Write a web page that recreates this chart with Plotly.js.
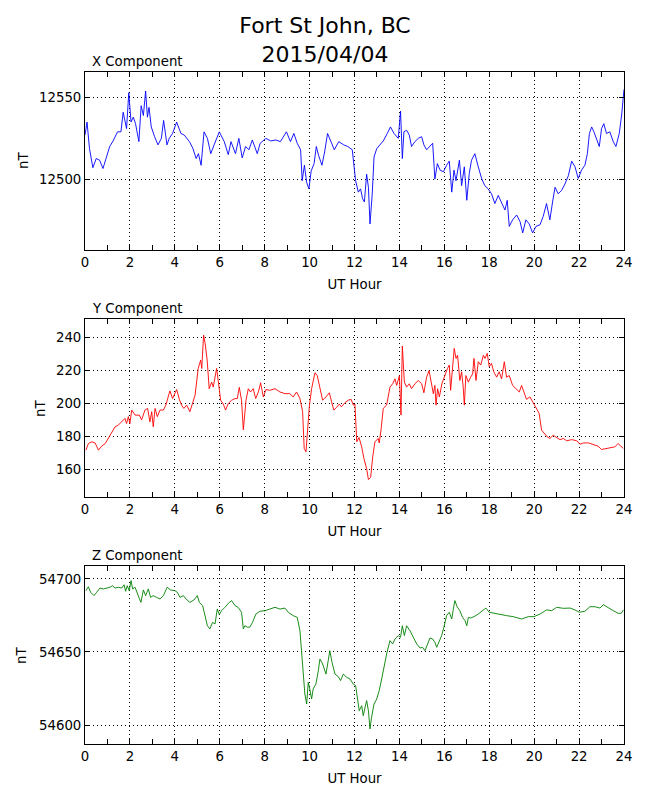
<!DOCTYPE html>
<html>
<head>
<meta charset="utf-8">
<script src="https://cdn.plot.ly/plotly-3.0.1.min.js"></script>
<style>html,body{margin:0;padding:0;background:#fff;}#chart{width:650px;height:800px;}</style>
</head>
<body>
<div id="chart"></div>
<script>
// ---- Data ----
const hoursX = [0.0,0.09,0.2,0.35,0.5,0.65,0.8,0.95,1.1,1.25,1.45,1.6,1.7,1.85,1.95,2.05,2.15,2.25,2.4,2.5,2.6,2.7,2.78,2.85,2.95,3.1,3.25,3.4,3.5,3.65,3.75,3.9,4.08,4.27,4.42,4.65,4.8,4.95,5.05,5.17,5.3,5.45,5.6,5.75,5.98,6.2,6.38,6.5,6.7,6.85,7.0,7.15,7.3,7.45,7.67,7.8,8.05,8.27,8.5,8.7,8.97,9.15,9.3,9.45,9.6,9.67,9.77,9.87,9.97,10.07,10.2,10.3,10.4,10.55,10.67,10.8,10.95,11.1,11.3,11.52,11.7,11.9,12.05,12.17,12.27,12.36,12.44,12.54,12.62,12.69,12.79,12.87,12.99,13.13,13.28,13.46,13.6,13.76,13.95,14.05,14.13,14.2,14.32,14.44,14.54,14.69,14.84,14.99,15.09,15.21,15.36,15.48,15.58,15.69,15.81,15.96,16.1,16.22,16.33,16.43,16.52,16.67,16.77,16.89,17.0,17.11,17.21,17.36,17.51,17.66,17.8,17.95,18.1,18.25,18.4,18.55,18.7,18.8,18.89,19.04,19.22,19.37,19.49,19.63,19.78,19.93,20.08,20.26,20.4,20.55,20.7,20.82,20.93,21.07,21.22,21.37,21.52,21.67,21.82,21.96,22.11,22.26,22.37,22.46,22.56,22.66,22.78,22.9,23.0,23.1,23.22,23.37,23.52,23.64,23.79,23.9,24.0];
const compX = [12527,12535,12518.7,12507,12512.6,12511.6,12506.5,12512.6,12520,12523.4,12529,12529,12541,12531,12553,12535,12538,12534,12523,12545,12539,12554,12538,12544,12532,12526,12521,12525,12536,12521,12525,12528,12535,12528,12527,12523,12519,12512.6,12515.6,12508.5,12529,12525,12515.6,12521,12529,12523,12515,12523,12515.6,12525,12513,12520,12518,12524,12515.6,12522,12525,12523.4,12524,12523,12529,12523,12528,12522,12518,12499,12508.5,12498,12494,12505,12509.5,12520,12514.6,12508.5,12516.7,12528,12523,12518,12523,12521,12520,12518,12499,12492,12494,12488,12486,12503,12495,12472.5,12491,12513.6,12518.7,12521,12523.4,12528,12532,12528,12525,12541.7,12512.6,12529,12530,12527,12520,12523,12525,12526,12521,12518,12520,12522,12500,12509.5,12505.5,12504.5,12508.5,12511,12492,12505.5,12499,12511.6,12496,12507.5,12487,12503.4,12511.6,12515.6,12507.5,12500.4,12496,12494,12491,12485,12490,12486,12481,12487,12471,12475,12478,12474,12467,12475,12472.5,12467,12471,12472,12477,12485,12475,12486,12495,12491,12493,12497,12502,12511,12507.5,12500.4,12505.5,12508.5,12515.6,12528,12532,12529,12524,12520,12531,12534,12528,12529,12523,12520,12528,12540,12555];

const hoursY = [0.04,0.15,0.3,0.45,0.6,0.74,0.9,1.04,1.19,1.34,1.48,1.63,1.78,1.85,1.93,2.0,2.08,2.23,2.42,2.52,2.67,2.79,2.89,2.97,3.04,3.12,3.22,3.34,3.49,3.6,3.71,3.78,3.9,4.08,4.2,4.3,4.4,4.53,4.67,4.79,4.9,5.04,5.15,5.2,5.28,5.35,5.44,5.53,5.64,5.71,5.86,5.93,6.04,6.16,6.26,6.38,6.53,6.68,6.78,6.87,6.97,7.05,7.17,7.27,7.37,7.49,7.6,7.72,7.82,7.94,8.06,8.23,8.46,8.68,8.9,9.12,9.27,9.42,9.57,9.69,9.76,9.84,9.91,9.99,10.09,10.24,10.34,10.46,10.58,10.73,10.88,10.98,11.08,11.2,11.32,11.42,11.57,11.72,11.85,11.95,12.02,12.1,12.2,12.32,12.42,12.54,12.62,12.72,12.81,12.91,13.06,13.1,13.18,13.28,13.43,13.58,13.7,13.8,13.88,14.0,14.07,14.13,14.22,14.32,14.44,14.54,14.69,14.84,14.99,15.09,15.21,15.32,15.4,15.51,15.58,15.63,15.7,15.78,15.89,16.04,16.14,16.22,16.28,16.37,16.44,16.52,16.59,16.69,16.77,16.84,16.89,16.96,17.07,17.17,17.26,17.32,17.41,17.51,17.62,17.74,17.81,17.91,18.0,18.1,18.2,18.33,18.44,18.55,18.67,18.77,18.89,19.04,19.22,19.34,19.44,19.54,19.66,19.81,19.96,20.1,20.22,20.33,20.43,20.58,20.7,20.85,21.0,21.15,21.3,21.45,21.67,21.9,22.04,22.2,22.42,22.64,22.85,23.0,23.19,23.37,23.59,23.74,23.84,23.97];
const compY = [171.6,175.6,176.7,176,171.6,174,175.6,178.7,181.7,185.8,186.8,188.8,190.9,187.8,192,187.8,196,192.9,192.9,190,196,197,188.8,195,185.8,197,192,196,196,199,204,207.7,203,208.5,202.5,199,197,199,195,200,205,221.3,226.4,221.3,241.6,236.5,226.4,209,213,210,221.3,214,202,199.6,196,200,202,203,203,209.8,202,184,202,209,207,209,203,207,212.6,204,208.5,208,209,207,206,206,204,207,203,195,172.6,170.6,185.8,198.4,209,218.7,217,210,202,204,206.5,201,196,197.6,199.6,198,200.4,202,202.5,199,199.6,176.7,179.3,173.6,166.5,160.4,153.7,155,167.5,176.7,178.7,176,183.8,197,199,210,212,215,211,217,193,235,213,210,212,209,212,214,212,206.5,216,220,213,206,211,199,209,204,212,218,221.3,223.4,208,222.3,233.5,227.4,229.4,214,219.3,210,199,217,213,216,218,227.4,214,225.4,223.4,229.4,227.4,230.5,222.3,224.4,219.3,216,219.3,215,225.4,216,217,211,208.5,207,211,207,202.5,204,200.4,197,194,183.8,182.2,179.7,178.7,180.7,179.3,178,178.7,177.3,178,177.3,175.2,176,176,175.2,174,172,172.6,173.2,173.6,175.6,174,172.6];

const hoursZ = [0.04,0.15,0.25,0.4,0.52,0.67,0.82,0.96,1.11,1.22,1.34,1.48,1.63,1.74,1.81,1.88,1.97,2.05,2.12,2.23,2.3,2.4,2.49,2.6,2.7,2.82,2.92,3.04,3.19,3.34,3.49,3.66,3.81,4.0,4.11,4.23,4.38,4.5,4.67,4.85,5.0,5.09,5.24,5.34,5.45,5.56,5.68,5.79,5.89,5.98,6.08,6.23,6.38,6.53,6.68,6.82,6.97,7.05,7.12,7.23,7.34,7.46,7.61,7.79,8.01,8.23,8.46,8.68,8.9,9.05,9.27,9.45,9.57,9.64,9.72,9.79,9.87,9.94,10.01,10.09,10.16,10.28,10.39,10.46,10.58,10.73,10.83,10.9,11.0,11.13,11.28,11.38,11.5,11.65,11.8,11.95,12.05,12.13,12.21,12.32,12.39,12.47,12.54,12.62,12.69,12.76,12.87,12.99,13.1,13.21,13.31,13.43,13.58,13.7,13.8,13.95,14.05,14.13,14.22,14.32,14.47,14.62,14.77,14.92,15.03,15.14,15.24,15.36,15.48,15.58,15.66,15.78,15.88,15.98,16.1,16.22,16.33,16.4,16.47,16.57,16.69,16.81,16.92,17.0,17.07,17.17,17.32,17.51,17.71,17.85,18.0,18.21,18.48,18.77,19.07,19.44,19.74,19.99,20.26,20.55,20.78,21.0,21.3,21.6,21.82,22.01,22.26,22.48,22.71,22.93,23.08,23.3,23.52,23.74,23.88,23.97];
const compZ = [54692,54694.7,54690.9,54688.6,54690.9,54693.8,54693.2,54693.8,54694.3,54695.4,54693.8,54694.3,54693.8,54696,54691.6,54695.4,54692,54698.9,54693.2,54694.3,54690.9,54687.4,54684,54692.5,54688.6,54693.2,54687.4,54688.6,54687.4,54686.3,54688.6,54694.3,54692.5,54692,54690.9,54687.4,54688.6,54686.3,54684,54685.6,54688.6,54684,54681.7,54676,54668,54665.8,54670.3,54669.2,54679.4,54675.6,54678.3,54680.6,54683.3,54685.2,54681.7,54680.6,54677.2,54665.8,54668,54667,54667,54670.3,54676,54677.9,54678.3,54679.4,54680.6,54679.4,54680.1,54677.2,54674.9,54673.7,54664.6,54651,54632.7,54621.2,54614.4,54629.2,54624.7,54617.8,54624.7,54628,54637.2,54645.2,54641.8,54634.9,54644.1,54650.9,54642.9,54634.9,54633.1,54630.4,54634.9,54632.7,54631.5,54628,54627,54619,54609.8,54613.2,54606.4,54612.1,54616.7,54609.8,54597.3,54605.3,54614.4,54617.8,54623.5,54631.5,54639.5,54648.6,54657.8,54655.5,54658.9,54661.2,54660,54668,54661.2,54668,54664.6,54659.6,54655.5,54652.7,54653.2,54650.9,54655.5,54659.6,54658.9,54656.6,54653.2,54657.3,54661.2,54666.9,54674.9,54677.2,54672.6,54679.4,54685.2,54681,54678.3,54673.7,54671.5,54668,54673.7,54673.3,54674.2,54676,54678.3,54680.1,54677.2,54676.5,54675.6,54674.9,54674.2,54672.6,54674.2,54674.2,54676,54678.8,54678.3,54680.6,54679.9,54680.1,54678.8,54677.2,54677.9,54681,54681,54680.1,54682.4,54680.1,54678.3,54676.5,54676.5,54678.8];

const panelTitles = ['X Component','Y Component','Z Component'];
const yTitle = 'nT';
const xTitle = 'UT Hour';
const xTickVals = [0,2,4,6,8,10,12,14,16,18,20,22,24];

// ---- Styling ----
const FONT = 'DejaVu Sans, sans-serif';
const FS = 13.3;
const yTitleX = [-0.1150, -0.0835, -0.1169]; // paper x of the rotated "nT" labels

function xAxis(anchor){
  return {
    anchor: anchor, range: [0,24], tickvals: xTickVals,
    ticks: 'inside', ticklen: 5, tickwidth: 1, tickcolor: '#000',
    minor: {dtick: 1, tick0: 0, ticks: 'inside', ticklen: 5, tickwidth: 1, tickcolor: '#000', showgrid: false},
    showline: true, linecolor: '#000', linewidth: 1, mirror: 'ticks',
    showgrid: true, gridcolor: '#000', gridwidth: 1, griddash: '1px,3px',
    zeroline: false, automargin: false,
    tickfont: {family: FONT, size: FS, color: '#000'},
    title: {text: xTitle, font: {family: FONT, size: FS, color: '#000'}, standoff: 10}
  };
}
function yAxis(anchor, domain, range, dtick){
  return {
    anchor: anchor, domain: domain, range: range, dtick: dtick, tickformat: 'd',
    ticks: 'inside', ticklen: 5, tickwidth: 1, tickcolor: '#000',
    showline: true, linecolor: '#000', linewidth: 1, mirror: 'ticks',
    showgrid: true, gridcolor: '#000', gridwidth: 1, griddash: '1px,3px',
    zeroline: false, automargin: false,
    tickfont: {family: FONT, size: FS, color: '#000'}
  };
}

const traces = [
  {x: hoursX, y: compX, type: 'scatter', mode: 'lines', line: {color: '#0000ff', width: 0.9}, xaxis: 'x', yaxis: 'y', hoverinfo: 'skip'},
  {x: hoursY, y: compY, type: 'scatter', mode: 'lines', line: {color: '#ff0000', width: 0.9}, xaxis: 'x2', yaxis: 'y2', hoverinfo: 'skip'},
  {x: hoursZ, y: compZ, type: 'scatter', mode: 'lines', line: {color: '#008000', width: 0.9}, xaxis: 'x3', yaxis: 'y3', hoverinfo: 'skip'}
];

const suffix = i => (i === 0 ? '' : String(i + 1));
const panelAnn = panelTitles.map((t, i) => ({
  text: t, xref: 'x' + suffix(i) + ' domain', yref: 'y' + suffix(i) + ' domain',
  x: 0, y: 1, xanchor: 'left', yanchor: 'bottom', xshift: 5, yshift: 1, showarrow: false,
  font: {family: FONT, size: FS, color: '#000'}
}));
const yTitleAnn = panelTitles.map((t, i) => ({
  text: yTitle, xref: 'paper', yref: 'y' + suffix(i) + ' domain',
  x: yTitleX[i], y: 0.5, xanchor: 'center', yanchor: 'middle', textangle: -90, showarrow: false,
  font: {family: FONT, size: FS, color: '#000'}
}));

const layout = {
  width: 650, height: 800,
  margin: {l: 85, r: 26, t: 72, b: 56},
  paper_bgcolor: '#fff', plot_bgcolor: '#fff',
  showlegend: false,
  font: {family: FONT, size: FS, color: '#000'},
  title: {text: 'Fort St John, BC<br>2015/04/04', font: {family: FONT, size: 22, color: '#000'},
          x: 0.5, xref: 'container', xanchor: 'center', y: 1 - 33/800, yref: 'container', yanchor: 'top'},
  xaxis: xAxis('y'),
  xaxis2: xAxis('y2'),
  xaxis3: xAxis('y3'),
  yaxis: yAxis('x', [0.7351, 1], [12456.5, 12565.7], 50),
  yaxis2: yAxis('x2', [0.3676, 0.6324], [143.1, 251.4], 20),
  yaxis3: yAxis('x3', [0, 0.2649], [54587, 54708.9], 50),
  annotations: panelAnn.concat(yTitleAnn)
};

Plotly.newPlot('chart', traces, layout, {staticPlot: true, displayModeBar: false});
</script>
</body>
</html>
